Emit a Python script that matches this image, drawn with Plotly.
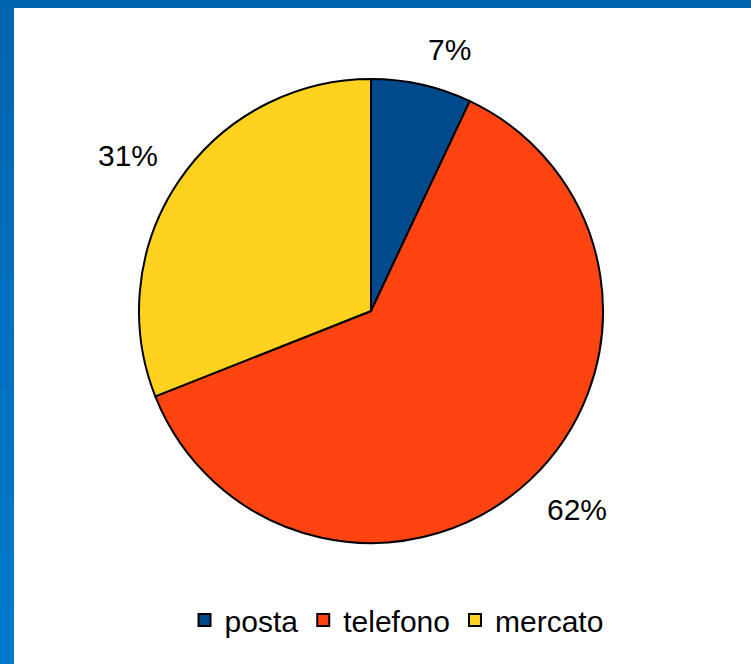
import math
import plotly.graph_objects as go

# Data
categories = ["posta", "telefono", "mercato"]
shares = [7, 62, 31]
colors = ["#004a8c", "#ff4411", "#ffd220"]

W, H = 751, 664
CX, CY, R = 371, 311, 232      # pie centre and radius in pixels
LABEL_R = R + 24                # anchor radius of percentage labels
HALF_TEXT = 12                  # roughly half the glyph height of the labels

fig = go.Figure()

fig.add_trace(go.Pie(
    labels=categories,
    values=shares,
    sort=False,
    direction="clockwise",
    rotation=0,
    marker=dict(colors=colors, line=dict(color="#000000", width=2)),
    textinfo="none",
    hoverinfo="label+percent",
    domain=dict(x=[(CX - R) / W, (CX + R) / W],
                y=[1 - (CY + R) / H, 1 - (CY - R) / H]),
))

# Percentage labels: anchored just outside the rim at each slice's mid angle,
# with the text pushed away from the pie on the side it sits
total = sum(shares)
cum = 0
annotations = []
for v in shares:
    mid = (cum + v / 2) / total * 2 * math.pi
    cum += v
    s, c = math.sin(mid), math.cos(mid)
    px = CX + LABEL_R * s
    py = CY - LABEL_R * c - HALF_TEXT * (1 if c > 0 else -1)
    annotations.append(dict(
        x=px / W, y=1 - py / H, xref="paper", yref="paper",
        text=f"{round(v / total * 100)}%", showarrow=False,
        font=dict(family="Liberation Sans, Arial, sans-serif", size=30, color="#000000"),
        xanchor="left" if s > 0 else "right",
        yanchor="middle",
        borderpad=0,
    ))

# Blue frame: top strip and a left strip shading slightly lighter downward
shapes = [
    dict(type="rect", xref="paper", yref="paper", x0=0, x1=1,
         y0=1 - 8 / H, y1=1, fillcolor="#0066b0", line_width=0, layer="below"),
    dict(type="rect", xref="paper", yref="paper", x0=0, x1=14 / W,
         y0=0, y1=1, fillcolor="#0070bd", line_width=0, layer="below"),
]
bands = 12
c0 = (0x00, 0x66, 0xb0)
c1 = (0x00, 0x79, 0xcc)
for i in range(bands):
    t = i / (bands - 1)
    c = tuple(round(a + (b - a) * t) for a, b in zip(c0, c1))
    shapes.append(dict(type="rect", xref="paper", yref="paper",
                       x0=0, x1=14 / W,
                       y0=max(0, 1 - (i + 1) / bands - 0.004), y1=1 - i / bands,
                       fillcolor="rgb(%d,%d,%d)" % c, line_width=0, layer="below"))

fig.update_layout(
    width=W, height=H,
    margin=dict(l=0, r=0, t=0, b=0),
    paper_bgcolor="#ffffff",
    plot_bgcolor="#ffffff",
    showlegend=True,
    legend=dict(
        orientation="h",
        x=0.528, xanchor="center",
        y=1 - 620 / H, yanchor="middle",
        font=dict(family="Liberation Sans, Arial, sans-serif", size=30, color="#000000"),
        itemwidth=30,
        tracegroupgap=0,
        bgcolor="rgba(0,0,0,0)",
    ),
    annotations=annotations,
    shapes=shapes,
)

fig.write_html("out.html")
